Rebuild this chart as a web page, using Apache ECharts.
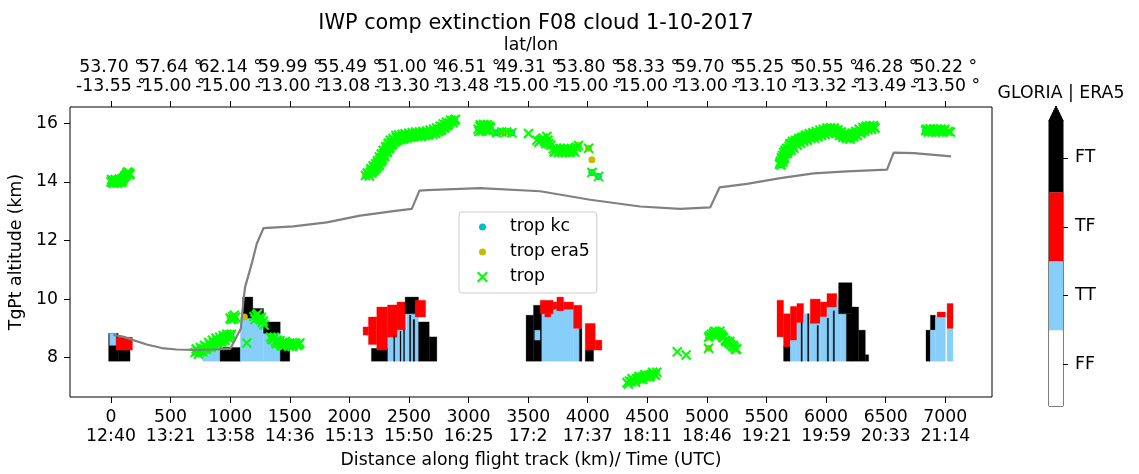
<!DOCTYPE html>
<html>
<head>
<meta charset="utf-8">
<script src="https://cdn.jsdelivr.net/npm/echarts@6/dist/echarts.min.js"></script>
<style>
  html, body { margin: 0; padding: 0; background: #ffffff; }
  #chart { width: 1139px; height: 474px; }
</style>
</head>
<body>
<div id="chart"></div>
<script>
// ---- axis ticks and labels ----
const distTicks = [0, 500, 1000, 1500, 2000, 2500, 3000, 3500, 4000, 4500, 5000, 5500, 6000, 6500, 7000];
const timeLabels = ['12:40', '13:21', '13:58', '14:36', '15:13', '15:50', '16:25', '17:2',
                    '17:37', '18:11', '18:46', '19:21', '19:59', '20:33', '21:14'];
const latLabels = ['53.70', '57.64', '62.14', '59.99', '55.49', '51.00', '46.51', '49.31',
                   '53.80', '58.33', '59.70', '55.25', '50.55', '46.28', '50.22'];
const lonLabels = ['-13.55', '-15.00', '-15.00', '-13.00', '-13.08', '-13.30', '-13.48', '-15.00',
                   '-15.00', '-15.00', '-13.00', '-13.10', '-13.32', '-13.49', '-13.50'];
const altTicks = [8, 10, 12, 14, 16];

// ---- tropopause altitude along the track: [distance km, altitude km] ----
const tropLine = [
  [20, 8.78], [100, 8.72], [187, 8.6], [300, 8.45], [425, 8.33], [550, 8.28], [691, 8.27],
  [850, 8.28], [1000, 8.3], [1090, 9.0], [1110, 9.9], [1125, 10.41], [1181, 11.21], [1223, 11.89],
  [1279, 12.42], [1530, 12.48], [1811, 12.62], [2090, 12.85], [2370, 13.0], [2524, 13.08],
  [2588, 13.7], [2650, 13.72], [3097, 13.79], [3601, 13.68], [4021, 13.39], [4440, 13.16],
  [4776, 13.08], [5028, 13.13], [5106, 13.81], [5336, 13.93], [5616, 14.13], [5895, 14.29],
  [6175, 14.36], [6511, 14.42], [6567, 15.0], [6735, 14.98], [7049, 14.87]
];

// ---- cloud classification: [x0 km, x1 km, alt0 km, alt1 km, class index] ----
const classNames = ['FF', 'TT', 'TF', 'FT'];
const classColors = ['#ffffff', '#87cefa', '#ff0000', '#000000'];
const cloudCells = [
  // near 0 km
  [-20, 60, 7.88, 8.83, 3], [-12, 42, 8.42, 8.83, 1], [60, 160, 7.88, 8.28, 3], [42, 180, 8.26, 8.7, 2],
  // 770-1500 km
  [770, 1100, 7.88, 8.3, 1], [915, 1085, 7.88, 8.35, 3], [1085, 1280, 7.88, 9.38, 1],
  [1280, 1420, 7.88, 8.85, 1], [1105, 1190, 9.35, 10.07, 3], [1190, 1280, 9.35, 9.68, 3],
  [1280, 1420, 8.83, 9.22, 3], [1420, 1500, 7.88, 8.37, 3],
  // 2115-2735 km
  [2320, 2480, 7.88, 8.8, 1], [2400, 2480, 8.8, 8.95, 1], [2480, 2580, 7.88, 9.5, 1],
  [2185, 2320, 7.88, 8.32, 3], [2115, 2160, 8.77, 9.05, 2], [2160, 2230, 8.45, 9.39, 2],
  [2230, 2320, 8.26, 9.73, 2], [2320, 2400, 8.7, 9.8, 2], [2400, 2470, 8.95, 9.9, 2],
  [2468, 2580, 9.5, 10.07, 3], [2552, 2640, 9.39, 9.96, 2], [2580, 2670, 7.88, 9.22, 3],
  [2670, 2734, 7.88, 8.71, 3], [2372, 2380, 7.88, 8.75, 3], [2425, 2433, 7.88, 8.9, 3],
  [2455, 2463, 7.88, 8.95, 3], [2505, 2515, 7.88, 9.45, 3], [2535, 2548, 7.88, 9.3, 3],
  // 3480-4120 km
  [3483, 3545, 7.88, 9.45, 3], [3545, 3615, 7.88, 9.79, 3], [3555, 3600, 8.6, 8.94, 1],
  [3615, 3881, 7.88, 9.65, 1], [3601, 3710, 9.5, 9.96, 2], [3640, 3690, 9.39, 9.5, 2],
  [3710, 3741, 9.65, 9.9, 2], [3741, 3797, 9.6, 10.07, 2], [3797, 3881, 9.65, 9.9, 2],
  [3881, 3930, 7.88, 9.0, 1], [3930, 3951, 7.88, 9.0, 3], [3881, 3951, 9.0, 9.79, 2],
  [3979, 4049, 7.88, 8.26, 3], [3979, 4063, 8.26, 9.17, 2], [4063, 4119, 8.26, 8.6, 2],
  // 5590-6360 km
  [5643, 5700, 7.88, 8.4, 3], [5588, 5643, 8.71, 9.96, 2], [5643, 5700, 8.37, 9.5, 2],
  [5700, 5755, 7.88, 8.6, 1], [5700, 5755, 8.6, 9.75, 2], [5755, 5811, 7.88, 9.2, 1],
  [5755, 5811, 9.2, 9.85, 2], [5811, 5867, 7.88, 9.5, 1], [5867, 5951, 7.88, 9.17, 1],
  [5867, 5951, 9.17, 10.0, 2], [5951, 6007, 7.88, 9.4, 1], [5951, 6007, 9.4, 9.9, 2],
  [6007, 6119, 7.88, 9.73, 1], [6007, 6090, 9.73, 10.19, 2], [6090, 6119, 9.73, 10.0, 1],
  [6119, 6170, 7.88, 9.5, 1], [6105, 6217, 9.5, 10.56, 3], [6170, 6217, 7.88, 9.5, 3],
  [6217, 6273, 7.88, 9.73, 3], [6273, 6329, 7.88, 8.94, 3], [6329, 6357, 7.88, 8.1, 3],
  [5790, 5800, 7.88, 9.2, 3], [5845, 5855, 7.88, 9.5, 3], [5925, 5935, 7.88, 9.1, 3],
  [6010, 6020, 7.88, 9.35, 3], [6060, 6070, 7.88, 9.6, 3],
  // 6838-7065 km
  [6838, 6875, 7.88, 8.94, 3], [6875, 6917, 8.94, 9.45, 3], [6875, 6917, 7.88, 8.94, 1],
  [6917, 7001, 7.88, 9.39, 1], [6931, 7001, 9.39, 9.56, 2], [7015, 7065, 7.88, 9.0, 1],
  [7015, 7065, 9.0, 9.85, 2]
];

// ---- tropopause estimates: [distance km, altitude km] ----
const tropKc = [
  [2135, 14.22], [2880, 16.08], [3237, 15.68], [3363, 15.68], [4035, 14.32], [4090, 14.18],
  [5616, 14.58], [6835, 15.75]
];
const tropEra5 = [
  [1000, 9.35], [1119, 9.39], [2135, 14.24], [3279, 15.7], [3321, 15.7], [3923, 15.24],
  [4007, 15.15], [4035, 14.76], [5014, 8.32], [5014, 8.7], [7029, 15.7]
];
const tropLeg1 = [
  [0, 14.0], [5, 14.08], [8, 14.06], [12, 14.03], [15, 13.97], [20, 13.95], [22, 14.03], [25, 13.98],
  [30, 14.0], [35, 14.08], [38, 14.02], [45, 13.98], [50, 14.04], [52, 14.04], [55, 13.96], [60, 14.01],
  [62, 14.0], [68, 14.06], [70, 14.09], [75, 14.05], [82, 14.04], [85, 13.98], [88, 14.08], [90, 14.07],
  [95, 14.03], [98, 14.1], [100, 14.12], [108, 14.14], [115, 14.2], [125, 14.22], [130, 14.27],
  [138, 14.32], [140, 14.34], [145, 14.3], [152, 14.3], [155, 14.24], [160, 14.28]
];
const tropLeg2 = [
  [705, 8.18], [715, 8.3], [725, 8.22], [735, 8.12], [745, 8.2], [750, 8.35], [760, 8.28], [770, 8.2],
  [780, 8.3], [785, 8.42], [795, 8.38], [800, 8.28], [810, 8.35], [820, 8.52], [830, 8.45], [838, 8.35],
  [845, 8.42], [852, 8.6], [860, 8.52], [868, 8.42], [875, 8.5], [882, 8.66], [890, 8.58], [898, 8.48],
  [905, 8.55], [912, 8.7], [920, 8.63], [928, 8.53], [935, 8.6], [942, 8.76], [950, 8.68], [958, 8.6],
  [965, 8.72], [972, 8.8], [980, 8.7], [988, 8.66], [995, 8.78], [1003, 8.72], [1010, 8.8],
  [1000, 9.35], [1008, 9.3], [1020, 9.4], [1030, 9.32], [1035, 9.45], [1045, 9.38], [1139, 8.5],
  [1200, 9.4], [1210, 9.3], [1220, 9.45], [1230, 9.5], [1240, 9.35], [1255, 9.3], [1262, 9.38],
  [1270, 9.2], [1278, 9.25], [1285, 9.12], [1340, 8.7], [1350, 8.62], [1360, 8.62], [1370, 8.7],
  [1380, 8.55], [1388, 8.48], [1395, 8.6], [1402, 8.55], [1410, 8.5], [1418, 8.58], [1425, 8.45],
  [1432, 8.4], [1440, 8.52], [1448, 8.46], [1455, 8.42], [1462, 8.55], [1470, 8.48], [1480, 8.45],
  [1490, 8.4], [1500, 8.5], [1510, 8.45], [1520, 8.38], [1530, 8.42], [1540, 8.5], [1550, 8.48],
  [1562, 8.42], [1575, 8.45], [1585, 8.5]
];
const tropLeg3 = [
  [2135, 14.22], [2150, 14.3], [2160, 14.28], [2168, 14.2], [2175, 14.33], [2180, 14.45], [2185, 14.4],
  [2190, 14.3], [2195, 14.36], [2200, 14.55], [2205, 14.47], [2210, 14.4], [2215, 14.52], [2220, 14.62],
  [2225, 14.45], [2228, 14.5], [2232, 14.6], [2236, 14.72], [2240, 14.66], [2245, 14.55], [2250, 14.58],
  [2252, 14.85], [2255, 14.75], [2260, 14.68], [2265, 14.82], [2268, 14.95], [2272, 14.72], [2276, 14.8],
  [2280, 14.9], [2284, 15.08], [2288, 14.98], [2292, 14.92], [2295, 14.86], [2300, 15.05], [2305, 15.2],
  [2310, 15.12], [2314, 15.05], [2318, 15.0], [2322, 15.2], [2326, 15.32], [2332, 15.28], [2336, 15.12],
  [2340, 15.18], [2345, 15.42], [2350, 15.35], [2356, 15.25], [2362, 15.3], [2366, 15.48], [2372, 15.42],
  [2378, 15.35], [2385, 15.38], [2390, 15.58], [2395, 15.5], [2402, 15.4], [2408, 15.45], [2414, 15.6],
  [2420, 15.52], [2428, 15.44], [2435, 15.47], [2442, 15.62], [2448, 15.55], [2455, 15.46], [2460, 15.5],
  [2468, 15.64], [2475, 15.57], [2482, 15.5], [2490, 15.52], [2498, 15.66], [2505, 15.6], [2512, 15.52],
  [2520, 15.55], [2528, 15.68], [2535, 15.62], [2542, 15.54], [2550, 15.58], [2558, 15.7], [2565, 15.65],
  [2572, 15.56], [2580, 15.6], [2588, 15.7], [2595, 15.62], [2602, 15.55], [2610, 15.58], [2618, 15.72],
  [2625, 15.66], [2632, 15.58], [2640, 15.6], [2648, 15.74], [2655, 15.68], [2662, 15.6], [2670, 15.64],
  [2678, 15.76], [2685, 15.7], [2692, 15.66], [2700, 15.63], [2706, 15.8], [2712, 15.72], [2718, 15.68],
  [2725, 15.67], [2732, 15.84], [2740, 15.75], [2748, 15.72], [2755, 15.8], [2762, 15.9], [2768, 15.76],
  [2775, 15.8], [2780, 15.88], [2788, 15.98], [2795, 15.84], [2802, 15.86], [2808, 15.95], [2815, 16.04],
  [2822, 15.92], [2830, 15.95], [2840, 16.02], [2850, 16.1], [2860, 16.08], [2870, 16.02], [2880, 16.1],
  [2890, 16.14]
];
const tropLeg4 = [
  [3080, 15.8], [3088, 15.72], [3095, 15.9], [3100, 15.95], [3105, 15.78], [3112, 15.74], [3118, 15.88],
  [3125, 15.96], [3130, 15.82], [3140, 15.93], [3145, 15.76], [3152, 15.85], [3158, 15.95], [3165, 15.8],
  [3170, 15.74], [3175, 15.9], [3185, 15.85], [3237, 15.68], [3279, 15.7], [3321, 15.7], [3363, 15.68],
  [3503, 15.65], [3573, 15.42], [3590, 15.35], [3600, 15.4], [3612, 15.45], [3625, 15.5], [3640, 15.38],
  [3648, 15.3], [3657, 15.55], [3665, 15.42], [3672, 15.3], [3690, 15.25], [3712, 15.12], [3718, 15.02],
  [3730, 15.05], [3738, 15.15], [3745, 15.1], [3752, 15.0], [3760, 15.02], [3768, 15.14], [3775, 15.08],
  [3782, 15.0], [3790, 15.04], [3798, 15.14], [3805, 15.1], [3812, 15.0], [3820, 15.06], [3830, 15.14],
  [3840, 15.1], [3850, 15.0], [3860, 15.05], [3870, 15.12], [3880, 15.08], [3890, 15.02], [3905, 15.18],
  [3923, 15.24], [4007, 15.15], [4035, 14.32], [4090, 14.18]
];
const tropLeg5 = [
  [4330, 7.15], [4340, 7.1], [4350, 7.2], [4365, 7.18], [4372, 7.28], [4380, 7.25], [4395, 7.22],
  [4402, 7.16], [4410, 7.28], [4425, 7.3], [4432, 7.36], [4440, 7.27], [4455, 7.33], [4462, 7.26],
  [4470, 7.36], [4480, 7.42], [4490, 7.35], [4510, 7.4], [4520, 7.34], [4530, 7.42], [4545, 7.5],
  [4555, 7.45], [4568, 7.4], [4580, 7.5], [4751, 8.2], [4826, 8.09], [5014, 8.32], [5014, 8.7],
  [5025, 8.75], [5040, 8.8], [5056, 8.84], [5065, 8.9], [5080, 8.88], [5090, 8.8], [5098, 8.85],
  [5108, 8.9], [5115, 8.8], [5126, 8.75], [5132, 8.7], [5140, 8.68], [5154, 8.6], [5160, 8.55],
  [5170, 8.55], [5185, 8.5], [5192, 8.55], [5200, 8.45], [5215, 8.4], [5222, 8.42], [5230, 8.35],
  [5240, 8.28], [5250, 8.3]
];
const tropLeg6 = [
  [5610, 14.6], [5614, 14.65], [5618, 14.7], [5622, 14.58], [5625, 14.82], [5630, 14.75], [5635, 14.9],
  [5638, 14.68], [5640, 14.78], [5645, 15.0], [5648, 14.88], [5652, 14.8], [5655, 15.08], [5660, 14.95],
  [5665, 15.02], [5670, 15.15], [5675, 14.98], [5680, 15.05], [5685, 15.12], [5690, 15.22], [5695, 15.3],
  [5700, 15.15], [5705, 15.08], [5712, 15.3], [5718, 15.38], [5725, 15.22], [5730, 15.15], [5738, 15.36],
  [5744, 15.42], [5750, 15.3], [5758, 15.25], [5765, 15.42], [5772, 15.48], [5778, 15.36], [5786, 15.32],
  [5792, 15.48], [5800, 15.52], [5806, 15.42], [5814, 15.38], [5820, 15.53], [5828, 15.6], [5835, 15.47],
  [5842, 15.42], [5850, 15.57], [5858, 15.64], [5865, 15.52], [5872, 15.48], [5880, 15.6], [5888, 15.68],
  [5895, 15.55], [5902, 15.5], [5910, 15.64], [5918, 15.72], [5925, 15.58], [5932, 15.54], [5940, 15.68],
  [5948, 15.76], [5955, 15.62], [5962, 15.58], [5970, 15.72], [5978, 15.8], [5985, 15.66], [5992, 15.62],
  [6000, 15.76], [6008, 15.84], [6015, 15.7], [6022, 15.66], [6030, 15.8], [6038, 15.85], [6045, 15.74],
  [6052, 15.7], [6060, 15.8], [6068, 15.84], [6075, 15.76], [6082, 15.66], [6090, 15.72], [6098, 15.78],
  [6105, 15.68], [6112, 15.58], [6120, 15.64], [6128, 15.7], [6135, 15.6], [6142, 15.52], [6150, 15.58],
  [6158, 15.64], [6165, 15.54], [6172, 15.48], [6180, 15.56], [6188, 15.62], [6195, 15.5], [6202, 15.46],
  [6210, 15.55], [6218, 15.66], [6225, 15.6], [6232, 15.54], [6240, 15.65], [6248, 15.72], [6255, 15.62],
  [6262, 15.58], [6270, 15.7], [6278, 15.8], [6285, 15.75], [6292, 15.66], [6300, 15.72], [6308, 15.86],
  [6315, 15.8], [6322, 15.74], [6330, 15.85], [6338, 15.9], [6345, 15.82], [6352, 15.78], [6360, 15.88],
  [6368, 15.92], [6375, 15.84], [6382, 15.8], [6390, 15.9], [6398, 15.92], [6405, 15.86], [6410, 15.84]
];
const tropLeg7 = [
  [6835, 15.75], [6842, 15.8], [6850, 15.78], [6858, 15.7], [6865, 15.73], [6872, 15.81], [6880, 15.77],
  [6888, 15.7], [6895, 15.74], [6902, 15.8], [6910, 15.78], [6918, 15.7], [6925, 15.75], [6932, 15.8],
  [6940, 15.77], [6948, 15.7], [6955, 15.73], [6962, 15.8], [6970, 15.76], [6978, 15.7], [6990, 15.75],
  [6995, 15.8], [7025, 15.72], [7043, 15.7]
];

// ---- colour bar levels ----
const cbTicks = [0, 1, 2, 3];
const cbEdges = [-0.6, 0.5, 1.5, 2.5, 3.55];

const FONT = 'DejaVu Sans';
const FS = 17.3;
const X_MARK = 'path://M1.4,0L10,8.6L8.6,10L0,1.4ZM0,8.6L8.6,0L10,1.4L1.4,10Z';
const DOT_ICON = 'path://M0,0M11,11M2,5.5A3.5,3.5,0,1,1,9,5.5A3.5,3.5,0,1,1,2,5.5Z';

const tropPts = [].concat(tropLeg1, tropLeg2, tropLeg3, tropLeg4, tropLeg5, tropLeg6, tropLeg7);
const cbData = classNames.map((n, i) => [cbEdges[i], cbEdges[i + 1], i]);
// the crowded top labels are split over two stacked axes (even / odd ticks)
const topTicksEven = distTicks.filter((v, i) => i % 2 === 0);
const topTicksOdd = distTicks.filter((v, i) => i % 2 === 1);

function cellRender(params, api) {
  const a = api.coord([api.value(0), api.value(3)]);
  const b = api.coord([api.value(1), api.value(2)]);
  const c = classColors[api.value(4)];
  return {
    type: 'rect',
    shape: { x: a[0], y: a[1], width: b[0] - a[0], height: b[1] - a[1] },
    style: { fill: c, stroke: c, lineWidth: 0.3 }
  };
}
function cbRender(params, api) {
  const a = api.coord([0, api.value(1)]);
  const b = api.coord([1, api.value(0)]);
  return {
    type: 'rect',
    shape: { x: a[0], y: a[1], width: b[0] - a[0], height: b[1] - a[1] },
    style: { fill: classColors[api.value(2)] }
  };
}

const XMIN = -344, XMAX = 7392;
const tickStyle = { color: '#000', width: 1 };
const labelStyle = { fontSize: FS, color: '#000', fontFamily: FONT };
const hiddenLine = { show: false, onZero: false };
const posLabel = v => { const i = Math.round(v / 500); return latLabels[i] + ' °\n' + lonLabels[i] + ' °'; };

function topAxis(ticks, withName) {
  const ax = {
    gridIndex: 0, type: 'value', position: 'top', offset: 0, min: XMIN, max: XMAX,
    splitLine: { show: false }, axisLine: hiddenLine,
    axisTick: { show: true, length: 6, customValues: ticks, lineStyle: tickStyle },
    axisLabel: Object.assign({ customValues: ticks, margin: 11, lineHeight: 18.7,
      showMinLabel: true, showMaxLabel: true, formatter: posLabel }, labelStyle)
  };
  if (withName) {
    ax.name = 'lat/lon';
    ax.nameLocation = 'middle';
    ax.nameGap = 52;
    ax.nameTextStyle = labelStyle;
  }
  return ax;
}

const chart = echarts.init(document.getElementById('chart'), null, { renderer: 'canvas' });
chart.setOption({
  animation: false,
  backgroundColor: '#ffffff',
  textStyle: { fontFamily: FONT },
  title: [
    { text: 'IWP comp extinction F08 cloud 1-10-2017', left: 531, top: 8, textAlign: 'center',
      textStyle: { fontSize: 20.8, fontWeight: 'normal', color: '#000', fontFamily: FONT } },
    { text: 'GLORIA | ERA5', left: 1056, top: 80, textAlign: 'center',
      textStyle: { fontSize: FS, fontWeight: 'normal', color: '#000', fontFamily: FONT } }
  ],
  legend: {
    left: 459, top: 212, orient: 'vertical',
    padding: [5, 7, 6, 18], itemGap: 5, itemWidth: 11, itemHeight: 11,
    backgroundColor: 'rgba(255,255,255,0.8)', borderColor: '#cccccc', borderWidth: 1, borderRadius: 3,
    textStyle: { fontSize: FS, color: '#000', lineHeight: 20, padding: [0, 0, 0, 17], fontFamily: FONT },
    data: [
      { name: 'trop kc', icon: DOT_ICON },
      { name: 'trop era5', icon: DOT_ICON },
      { name: 'trop', icon: X_MARK }
    ]
  },
  grid: [
    { left: 70, top: 107, width: 922, height: 290, show: true, borderColor: '#000', borderWidth: 1,
      backgroundColor: 'transparent', containLabel: false, outerBoundsMode: 'none' },
    { left: 1049, top: 120, width: 14, height: 286, show: true, borderColor: '#000', borderWidth: 1,
      backgroundColor: 'transparent', containLabel: false, outerBoundsMode: 'none' }
  ],
  xAxis: [
    { gridIndex: 0, type: 'value', position: 'bottom', min: XMIN, max: XMAX,
      splitLine: { show: false }, axisLine: hiddenLine,
      axisTick: { show: true, length: 6, customValues: distTicks, lineStyle: tickStyle },
      axisLabel: Object.assign({ customValues: distTicks, margin: 11, lineHeight: 18.7,
        showMinLabel: true, showMaxLabel: true,
        formatter: v => v + '\n' + timeLabels[Math.round(v / 500)] }, labelStyle),
      name: 'Distance along flight track (km)/ Time (UTC)', nameLocation: 'middle', nameGap: 55,
      nameTextStyle: labelStyle },
    topAxis(topTicksEven, true),
    topAxis(topTicksOdd, false),
    { gridIndex: 1, type: 'value', min: 0, max: 1, show: false }
  ],
  yAxis: [
    { gridIndex: 0, type: 'value', min: 6.659, max: 16.556,
      splitLine: { show: false }, axisLine: hiddenLine,
      axisTick: { show: true, length: 6, customValues: altTicks, lineStyle: tickStyle },
      axisLabel: Object.assign({ customValues: altTicks, margin: 12, showMinLabel: true, showMaxLabel: true }, labelStyle),
      name: 'TgPt altitude (km)', nameLocation: 'middle', nameGap: 35, nameRotate: 90,
      nameTextStyle: labelStyle },
    { gridIndex: 1, type: 'value', position: 'right', min: cbEdges[0], max: cbEdges[cbEdges.length - 1],
      splitLine: { show: false }, axisLine: hiddenLine,
      axisTick: { show: true, length: 5, customValues: cbTicks, lineStyle: tickStyle },
      axisLabel: Object.assign({ customValues: cbTicks, margin: 12, showMinLabel: true, showMaxLabel: true,
        formatter: v => classNames[Math.round(v)] }, labelStyle) }
  ],
  graphic: [
    { type: 'polygon', z: 100,
      shape: { points: [[1049, 120.5], [1063, 120.5], [1056, 106]] },
      style: { fill: '#000', stroke: '#000', lineWidth: 1 } }
  ],
  series: [
    { type: 'line', name: 'tropopause', xAxisIndex: 0, yAxisIndex: 0, data: tropLine,
      symbol: 'none', showSymbol: false, silent: true,
      lineStyle: { color: '#808080', width: 2.2 } },
    { type: 'custom', name: 'cloud class', xAxisIndex: 0, yAxisIndex: 0, data: cloudCells,
      renderItem: cellRender, encode: { x: [0, 1], y: [2, 3] }, silent: true },
    { type: 'scatter', name: 'trop kc', xAxisIndex: 0, yAxisIndex: 0, data: tropKc,
      symbol: 'circle', symbolSize: 7, itemStyle: { color: '#00bfbf', opacity: 1 } },
    { type: 'scatter', name: 'trop era5', xAxisIndex: 0, yAxisIndex: 0, data: tropEra5,
      symbol: 'circle', symbolSize: 7, itemStyle: { color: '#bfbf00', opacity: 1 } },
    { type: 'scatter', name: 'trop', xAxisIndex: 0, yAxisIndex: 0, data: tropPts,
      symbol: X_MARK, symbolSize: 10.5, itemStyle: { color: '#00ff00', opacity: 1 } },
    { type: 'custom', name: 'colour bar', xAxisIndex: 3, yAxisIndex: 1, data: cbData,
      renderItem: cbRender, encode: { y: [0, 1] }, silent: true }
  ]
});
</script>
</body>
</html>
